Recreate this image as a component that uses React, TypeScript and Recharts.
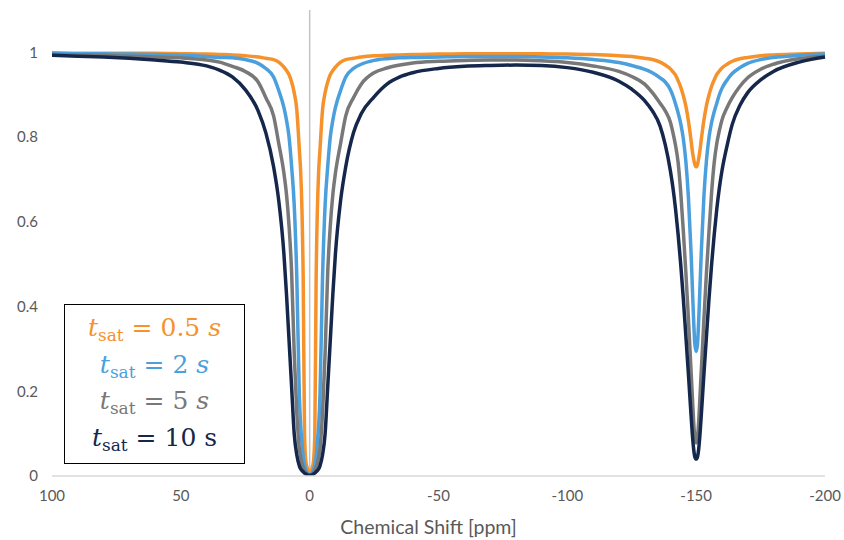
import React from 'react';
import { LineChart, Line, XAxis, YAxis, ReferenceLine, Label } from 'recharts';

// Chemical shift sampling points (ppm), shared by every series
const shift = [
  100, 90, 80, 70, 60, 50, 40, 35, 30, 25, 20, 17, 14, 12, 10, 9, 8, 7, 6, 5, 4, 3.5, 3, 2.5, 2, 1.5, 1, 0.5, 0,
  -0.5, -1, -1.5, -2, -2.5, -3, -3.5, -4, -5, -6, -7, -8, -9, -10, -12, -14, -17, -20,
  -25, -30, -35, -40, -50, -60, -70, -80, -90, -100, -110, -120, -125, -130, -133, -136, -138,
  -140, -141, -142, -143, -144, -145, -146, -147, -148, -148.5, -149, -149.5, -150,
  -150.5, -151, -151.5, -152, -153, -154, -155, -156, -157, -158, -159, -160,
  -162, -164, -167, -170, -175, -180, -190, -200,
];

// Normalised signal for t_sat = 0.5 s
const z05 = [
  0.999, 0.998, 0.998, 0.998, 0.998, 0.997, 0.996, 0.995, 0.994, 0.992, 0.989, 0.986, 0.983, 0.977, 0.965, 0.957, 0.947, 0.93, 0.905, 0.865, 0.77, 0.72, 0.63, 0.46, 0.1, 0.035, 0.02, 0.01, 0.006,
  0.01, 0.02, 0.035, 0.1, 0.46, 0.63, 0.72, 0.77, 0.865, 0.905, 0.93, 0.947, 0.957, 0.965, 0.977, 0.983, 0.986, 0.989,
  0.992, 0.993, 0.994, 0.995, 0.996, 0.997, 0.997, 0.997, 0.997, 0.996, 0.995, 0.992, 0.99, 0.986, 0.983, 0.977, 0.97,
  0.961, 0.954, 0.946, 0.933, 0.918, 0.898, 0.873, 0.838, 0.793, 0.768, 0.749, 0.735, 0.73,
  0.735, 0.75, 0.77, 0.795, 0.84, 0.875, 0.9, 0.92, 0.935, 0.948, 0.956, 0.963,
  0.972, 0.979, 0.985, 0.988, 0.992, 0.994, 0.996, 0.998,
];

// Normalised signal for t_sat = 2 s
const z2 = [
  0.998, 0.997, 0.997, 0.996, 0.995, 0.993, 0.99, 0.988, 0.987, 0.983, 0.974, 0.962, 0.942, 0.91, 0.87, 0.84, 0.8, 0.73, 0.64, 0.47, 0.19, 0.12, 0.08, 0.045, 0.027, 0.015, 0.008, 0.004, 0.002,
  0.004, 0.008, 0.015, 0.027, 0.045, 0.08, 0.12, 0.19, 0.47, 0.64, 0.73, 0.8, 0.84, 0.87, 0.91, 0.942, 0.962, 0.972,
  0.981, 0.985, 0.987, 0.988, 0.989, 0.99, 0.99, 0.99, 0.989, 0.987, 0.983, 0.976, 0.969, 0.96, 0.952, 0.94, 0.93,
  0.912, 0.897, 0.878, 0.857, 0.832, 0.797, 0.742, 0.657, 0.53, 0.45, 0.37, 0.31, 0.294,
  0.31, 0.37, 0.45, 0.53, 0.66, 0.745, 0.8, 0.835, 0.86, 0.88, 0.9, 0.915,
  0.935, 0.95, 0.964, 0.974, 0.983, 0.988, 0.993, 0.996,
];

// Normalised signal for t_sat = 5 s
const z5 = [
  0.995, 0.994, 0.993, 0.991, 0.989, 0.987, 0.982, 0.977, 0.967, 0.955, 0.93, 0.893, 0.85, 0.785, 0.715, 0.665, 0.59, 0.48, 0.29, 0.15, 0.065, 0.045, 0.03, 0.02, 0.013, 0.008, 0.005, 0.003, 0.002,
  0.003, 0.005, 0.008, 0.013, 0.02, 0.03, 0.045, 0.065, 0.15, 0.29, 0.48, 0.59, 0.665, 0.715, 0.785, 0.85, 0.893, 0.925,
  0.952, 0.963, 0.97, 0.975, 0.979, 0.981, 0.982, 0.982, 0.98, 0.976, 0.968, 0.955, 0.943, 0.925, 0.905, 0.88, 0.862,
  0.835, 0.81, 0.78, 0.74, 0.67, 0.58, 0.48, 0.37, 0.25, 0.19, 0.13, 0.09, 0.078,
  0.09, 0.13, 0.19, 0.25, 0.37, 0.48, 0.58, 0.67, 0.74, 0.785, 0.815, 0.84,
  0.87, 0.893, 0.92, 0.94, 0.96, 0.972, 0.985, 0.991,
];

// Normalised signal for t_sat = 10 s
const z10 = [
  0.993, 0.991, 0.989, 0.986, 0.982, 0.977, 0.968, 0.958, 0.942, 0.912, 0.862, 0.81, 0.73, 0.65, 0.525, 0.43, 0.32, 0.21, 0.1, 0.05, 0.024, 0.017, 0.013, 0.01, 0.007, 0.005, 0.003, 0.002, 0.002,
  0.002, 0.003, 0.005, 0.007, 0.01, 0.013, 0.017, 0.024, 0.05, 0.1, 0.21, 0.32, 0.43, 0.525, 0.65, 0.73, 0.81, 0.855,
  0.895, 0.925, 0.942, 0.952, 0.962, 0.967, 0.969, 0.97, 0.969, 0.964, 0.953, 0.932, 0.913, 0.886, 0.862, 0.826, 0.782,
  0.72, 0.68, 0.63, 0.57, 0.5, 0.42, 0.33, 0.24, 0.145, 0.1, 0.065, 0.045, 0.04,
  0.045, 0.065, 0.1, 0.145, 0.24, 0.33, 0.42, 0.5, 0.57, 0.63, 0.68, 0.72,
  0.78, 0.83, 0.875, 0.905, 0.935, 0.955, 0.977, 0.989,
];

const xTicks = [100, 50, 0, -50, -100, -150, -200];
const yTicks = [0, 0.2, 0.4, 0.6, 0.8, 1];

const rows = shift.map((s, i) => ({ shift: s, z05: z05[i], z2: z2[i], z5: z5[i], z10: z10[i] }));

const COLORS = {
  z05: '#F5922C',
  z2: '#4A9FDC',
  z5: '#787878',
  z10: '#15284C',
};

const legendRows = [
  { key: 'z05', value: '0.5', italicUnit: true },
  { key: 'z2', value: '2', italicUnit: true },
  { key: 'z5', value: '5', italicUnit: true },
  { key: 'z10', value: '10', italicUnit: false },
];

const tickStyle = { fill: '#595959', fontSize: 15, fontFamily: 'Lato, sans-serif' };

export default function App() {
  return (
    <div style={{ position: 'absolute', left: 0, top: 0, width: 844, height: 540, background: '#fff' }}>
      <LineChart
        width={844}
        height={540}
        data={rows}
        margin={{ top: 10, right: 19, left: 0, bottom: 0 }}
      >
        <XAxis
          type="number"
          dataKey="shift"
          domain={[-200, 100]}
          reversed
          ticks={xTicks}
          tickLine={false}
          tickSize={0}
          tickMargin={14}
          height={64}
          stroke="#d9d9d9"
          strokeWidth={1.5}
          tick={tickStyle}
        >
          <Label
            value="Chemical Shift [ppm]"
            position="insideBottom"
            offset={6}
            dx={-10}
            style={{ fill: '#595959', fontSize: 19.5, fontFamily: 'Lato, sans-serif' }}
          />
        </XAxis>
        <YAxis
          type="number"
          domain={[0, 1.1]}
          ticks={yTicks}
          width={52}
          axisLine={false}
          tickLine={false}
          tickSize={0}
          tickMargin={14}
          tick={tickStyle}
          allowDataOverflow
        />
        <ReferenceLine x={0} stroke="#c4c4c4" strokeWidth={1.5} />
        <Line type="monotone" dataKey="z05" stroke={COLORS.z05} strokeWidth={3.5} dot={false} isAnimationActive={false} />
        <Line type="monotone" dataKey="z2" stroke={COLORS.z2} strokeWidth={3.5} dot={false} isAnimationActive={false} />
        <Line type="monotone" dataKey="z5" stroke={COLORS.z5} strokeWidth={3.5} dot={false} isAnimationActive={false} />
        <Line type="monotone" dataKey="z10" stroke={COLORS.z10} strokeWidth={3.5} dot={false} isAnimationActive={false} />
      </LineChart>
      <div
        style={{
          position: 'absolute',
          left: 64,
          top: 304,
          width: 181,
          height: 160,
          boxSizing: 'border-box',
          border: '1.5px solid #000',
          background: '#fff',
          paddingTop: 5,
          fontFamily: '"DejaVu Serif", serif',
          fontSize: 25,
        }}
      >
        {legendRows.map((r) => (
          <div
            key={r.key}
            style={{ color: COLORS[r.key as keyof typeof COLORS], height: 36.5, lineHeight: '36.5px', textAlign: 'center', whiteSpace: 'nowrap' }}
          >
            <i>t</i>
            <sub style={{ fontSize: 17, verticalAlign: '-0.3em' }}>sat</sub>
            {' = '}
            {r.value}{' '}
            {r.italicUnit ? <i>s</i> : <span>s</span>}
          </div>
        ))}
      </div>
    </div>
  );
}
